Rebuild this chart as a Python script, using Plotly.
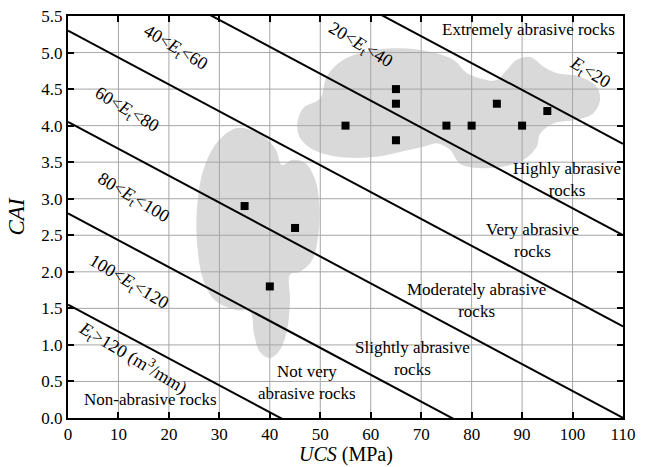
import plotly.graph_objects as go

# ---- data ----
ucs = [35, 45, 40, 55, 65, 65, 65, 75, 80, 85, 90, 95]
cai = [2.9, 2.6, 1.8, 4.0, 4.5, 4.3, 3.8, 4.0, 4.0, 4.3, 4.0, 4.2]

# boundary lines CAI = a + slope*UCS
line_intercepts = [1.55, 2.80, 4.05, 5.30, 6.55, 7.80]
line_slope = -0.0368
line_x = [0, 110]

# shaded clusters (outline)
blob1_x = [34.1, 38.5, 41.2, 42.4, 44.4, 47.0, 49.0, 49.8, 49.6, 48.4, 46.0, 44.0, 44.0,
           43.4, 42.0, 40.0, 38.1, 36.9, 36.1, 33.1, 29.1, 26.8, 25.6, 25.6, 26.8, 29.1, 31.7]
blob1_y = [3.97, 3.87, 3.67, 3.46, 3.53, 3.49, 3.26, 2.91, 2.50, 2.16, 2.00, 1.96, 1.61,
           1.20, 0.93, 0.82, 0.90, 1.14, 1.45, 1.48, 1.61, 1.89, 2.37, 2.91, 3.39, 3.73, 3.91]
blob2_x = [45.45, 46.64, 49.95, 51.28, 54.57, 60.52, 65.8, 71.75, 76.37, 79.03, 81.66, 84.84,
           86.96, 88.94, 91.58, 94.21, 96.87, 101.49, 104.8, 105.45, 104.12, 100.83, 96.19,
           93.56, 92.9, 90.25, 86.28, 81.66, 77.7, 75.72, 73.08, 70.43, 65.8, 60.52, 53.9,
           48.6, 46.0]
blob2_y = [4.03, 4.24, 4.37, 4.67, 4.90, 5.03, 5.06, 5.01, 4.90, 4.72, 4.65, 4.62,
           4.76, 4.90, 4.94, 4.81, 4.72, 4.67, 4.53, 4.35, 4.17, 4.08, 4.03,
           3.89, 3.71, 3.53, 3.44, 3.42, 3.48, 3.67, 3.76, 3.71, 3.64, 3.57, 3.57,
           3.67, 3.83]

x_ticks = [0, 10, 20, 30, 40, 50, 60, 70, 80, 90, 100, 110]
y_ticks = [0.0, 0.5, 1.0, 1.5, 2.0, 2.5, 3.0, 3.5, 4.0, 4.5, 5.0, 5.5]

band_labels = [
    ("40&lt;<i>E</i><sub>t</sub>&lt;60", 21.3, 5.06),
    ("20&lt;<i>E</i><sub>t</sub>&lt;40", 57.9, 5.10),
    ("60&lt;<i>E</i><sub>t</sub>&lt;80", 11.6, 4.21),
    ("80&lt;<i>E</i><sub>t</sub>&lt;100", 12.9, 3.00),
    ("100&lt;<i>E</i><sub>t</sub>&lt;120", 11.9, 1.85),
    ("<i>E</i><sub>t</sub>&gt;120 (m<sup>3</sup>/mm)", 12.9, 0.83),
    ("<i>E</i><sub>t</sub>&lt;20", 103.5, 4.72),
]
class_labels = [
    ("Extremely abrasive rocks", 91.2, 5.31),
    ("Highly abrasive<br>rocks", 98.9, 3.26),
    ("Very abrasive<br>rocks", 92.0, 2.43),
    ("Moderately abrasive<br>rocks", 81.0, 1.61),
    ("Slightly abrasive<br>rocks", 68.2, 0.82),
    ("Not very<br>abrasive rocks", 47.3, 0.49),
    ("Non-abrasive rocks", 16.3, 0.25),
]
x_title = "<i>UCS</i> (MPa)"
y_title = "<i>CAI</i>"

FONT = "Liberation Serif"
fig = go.Figure()

# shaded regions
for bx, by in [(blob1_x, blob1_y), (blob2_x, blob2_y)]:
    fig.add_trace(go.Scatter(x=bx + [bx[0]], y=by + [by[0]], mode="lines",
                             line=dict(shape="spline", smoothing=1.0, width=0, color="#d9d9d9"),
                             fill="toself", fillcolor="#d9d9d9", hoverinfo="skip", showlegend=False))

# grid drawn on top of the shaded regions
gx, gy = [], []
for t in x_ticks[1:-1]:
    gx += [t, t, None]
    gy += [y_ticks[0], y_ticks[-1], None]
for t in y_ticks[1:-1]:
    gx += [x_ticks[0], x_ticks[-1], None]
    gy += [t, t, None]
fig.add_trace(go.Scatter(x=gx, y=gy, mode="lines", line=dict(color="#a6a6a6", width=1),
                         hoverinfo="skip", showlegend=False))

# boundary lines
for a in line_intercepts:
    fig.add_trace(go.Scatter(x=line_x, y=[a + line_slope * v for v in line_x], mode="lines",
                             line=dict(color="black", width=2), hoverinfo="skip", showlegend=False))

# data points
fig.add_trace(go.Scatter(x=ucs, y=cai, mode="markers",
                         marker=dict(symbol="square", size=8, color="black"), showlegend=False))

for txt, x, y in band_labels:
    fig.add_annotation(x=x, y=y, text=txt, showarrow=False, textangle=31,
                       font=dict(family=FONT, size=18, color="black"))
for txt, x, y in class_labels:
    fig.add_annotation(x=x, y=y, text=txt, showarrow=False,
                       font=dict(family=FONT, size=17, color="black"))

# axis titles
fig.add_annotation(x=0.5, y=0, xref="paper", yref="paper", text=x_title, showarrow=False,
                   xanchor="center", yanchor="top", yshift=-23,
                   font=dict(family=FONT, size=20, color="black"))
fig.add_annotation(x=0, y=0.5, xref="paper", yref="paper", text=y_title, showarrow=False,
                   xanchor="right", yanchor="middle", xshift=-38, textangle=-90,
                   font=dict(family=FONT, size=23, color="black"))

axis_common = dict(showline=True, linecolor="black", linewidth=2, mirror="ticks",
                   ticks="inside", ticklen=6, tickwidth=2, tickcolor="black",
                   showgrid=False, zeroline=False, automargin=False,
                   tickfont=dict(family=FONT, size=17, color="black"))
fig.update_xaxes(range=[0, 110], tickvals=x_ticks, **axis_common)
fig.update_yaxes(range=[0, 5.5], tickvals=y_ticks, tickformat=".1f", **axis_common)
fig.update_layout(width=648, height=467, margin=dict(l=68, r=25, t=16, b=49),
                  paper_bgcolor="white", plot_bgcolor="white")
fig.write_html("out.html")
